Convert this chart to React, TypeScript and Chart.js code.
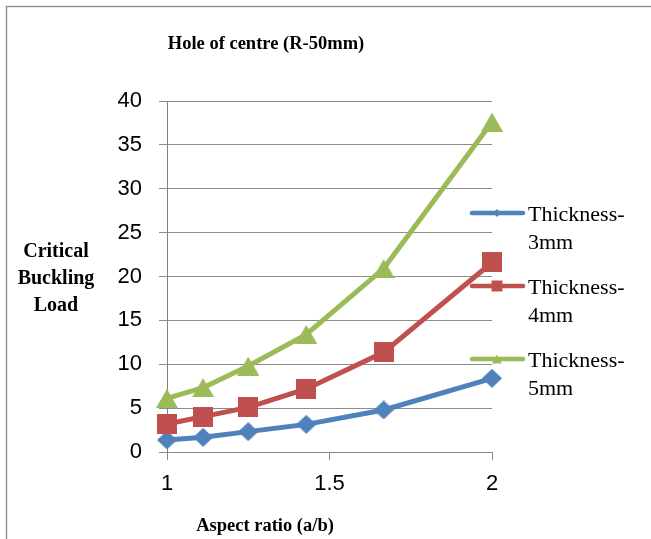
import React, { useEffect, useRef } from "react";
import { Chart, registerables } from "chart.js";

Chart.register(...registerables);

// Aspect ratios (a/b) tested
const aspectRatios = [1, 1.111, 1.25, 1.4286, 1.6667, 2];

// Critical buckling load for each plate thickness
const load3mm = [1.37, 1.67, 2.32, 3.15, 4.79, 8.4];
const load4mm = [3.19, 4.03, 5.09, 7.18, 11.36, 21.6];
const load5mm = [6.1, 7.33, 9.8, 13.4, 20.9, 37.6];

const seriesNames = [
  ["Thickness-", "3mm"],
  ["Thickness-", "4mm"],
  ["Thickness-", "5mm"],
];

const xTicks = [1, 1.5, 2];
const yTicks = [0, 5, 10, 15, 20, 25, 30, 35, 40];

const chartTitle = "Hole of centre (R-50mm)";
const xTitle = "Aspect ratio (a/b)";
const yTitleLines = ["Critical", "Buckling", "Load"];

const BLUE = "#4F81BD";
const RED = "#C0504D";
const GREEN = "#9BBB59";
const SERIF = '"Liberation Serif", "Times New Roman", serif';
const SANS = '"Liberation Sans", Arial, sans-serif';

type Shape = "diamond" | "square" | "triangle";

function drawShape(ctx: CanvasRenderingContext2D, shape: Shape, cx: number, cy: number, w: number, h: number) {
  ctx.beginPath();
  if (shape === "diamond") {
    ctx.moveTo(cx, cy - h / 2);
    ctx.lineTo(cx + w / 2, cy);
    ctx.lineTo(cx, cy + h / 2);
    ctx.lineTo(cx - w / 2, cy);
  } else if (shape === "square") {
    ctx.rect(cx - w / 2, cy - h / 2, w, h);
  } else {
    ctx.moveTo(cx, cy - h / 2);
    ctx.lineTo(cx + w / 2, cy + h / 2);
    ctx.lineTo(cx - w / 2, cy + h / 2);
  }
  ctx.closePath();
  ctx.fill();
}

function makeMarker(shape: Shape, w: number, h: number, color: string): HTMLCanvasElement {
  const c = document.createElement("canvas");
  c.width = w;
  c.height = h;
  const ctx = c.getContext("2d")!;
  ctx.fillStyle = color;
  drawShape(ctx, shape, w / 2, h / 2, w, h);
  return c;
}

const markerShapes: Shape[] = ["diamond", "square", "triangle"];
const legendMarkerSize: [number, number][] = [
  [8, 8],
  [11, 11],
  [10, 9],
];

// Frame, titles and the right-hand legend
const decorations = {
  id: "decorations",
  beforeDraw(chart: Chart) {
    const ctx = chart.ctx;
    ctx.save();
    ctx.fillStyle = "#ffffff";
    ctx.fillRect(0, 0, chart.width, chart.height);
    ctx.strokeStyle = "#8a8a8a";
    ctx.lineWidth = 1.3;
    ctx.strokeRect(6.5, 6.5, chart.width + 20, chart.height + 20);
    ctx.restore();
  },
  afterDraw(chart: Chart) {
    const ctx = chart.ctx;
    ctx.save();
    ctx.fillStyle = "#000000";
    ctx.textAlign = "center";
    ctx.textBaseline = "alphabetic";

    ctx.font = `bold 18.5px ${SERIF}`;
    ctx.fillText(chartTitle, 266, 49);
    ctx.fillText(xTitle, 265, 531);

    ctx.font = `bold 20px ${SERIF}`;
    yTitleLines.forEach((t, i) => ctx.fillText(t, 56, 257 + i * 27));

    // legend
    ctx.textAlign = "left";
    ctx.font = `22px ${SERIF}`;
    chart.data.datasets.forEach((ds: any, i: number) => {
      const lineY = 213 + i * 73;
      const color = ds.borderColor as string;
      ctx.strokeStyle = color;
      ctx.lineWidth = 4.5;
      ctx.lineCap = "round";
      ctx.beginPath();
      ctx.moveTo(472, lineY);
      ctx.lineTo(523, lineY);
      ctx.stroke();
      ctx.fillStyle = color;
      const [mw, mh] = legendMarkerSize[i];
      drawShape(ctx, markerShapes[i], 497, lineY, mw, mh);
      ctx.fillStyle = "#000000";
      seriesNames[i].forEach((line, j) => ctx.fillText(line, 528, lineY + 8 + j * 27.5));
    });
    ctx.restore();
  },
};

export default function App() {
  const canvasRef = useRef<HTMLCanvasElement>(null);

  useEffect(() => {
    const canvas = canvasRef.current;
    if (!canvas) return;

    const markers = [
      makeMarker("diamond", 20, 19, BLUE),
      makeMarker("square", 20, 20, RED),
      makeMarker("triangle", 22, 19, GREEN),
    ];
    const colors = [BLUE, RED, GREEN];
    const series = [load3mm, load4mm, load5mm];

    const chart = new Chart(canvas, {
      type: "line",
      data: {
        datasets: series.map((vals, i) => ({
          label: seriesNames[i].join(""),
          data: aspectRatios.map((x, k) => ({ x, y: vals[k] })),
          borderColor: colors[i],
          backgroundColor: colors[i],
          borderWidth: 5,
          tension: 0,
          pointStyle: markers[i],
          pointRadius: 10,
          clip: false,
          order: 2 - i,
        })),
      },
      options: {
        responsive: false,
        animation: false,
        layout: { padding: { left: 0, right: 159, top: 101, bottom: 0 } },
        plugins: {
          legend: { display: false },
          title: { display: false },
          tooltip: { enabled: false },
        },
        scales: {
          x: {
            type: "linear",
            min: 1,
            max: 2,
            afterFit: (scale: any) => {
              scale.height = 87;
            },
            afterBuildTicks: (scale: any) => {
              scale.ticks = xTicks.map((v) => ({ value: v }));
            },
            ticks: {
              color: "#000000",
              font: { family: SANS, size: 22 },
              padding: 11,
              callback: (v: any) => String(v),
            },
            grid: {
              drawOnChartArea: false,
              drawTicks: true,
              tickLength: 8,
              color: "#868686",
            },
            border: { display: true, color: "#868686", width: 1 },
          },
          y: {
            type: "linear",
            min: 0,
            max: 40,
            afterFit: (scale: any) => {
              scale.width = 167;
            },
            afterBuildTicks: (scale: any) => {
              scale.ticks = yTicks.map((v) => ({ value: v }));
            },
            ticks: {
              color: "#000000",
              font: { family: SANS, size: 22 },
              padding: 17,
              callback: (v: any) => String(v),
            },
            grid: {
              color: "#8c8c8c",
              lineWidth: 1,
              drawTicks: true,
              tickLength: 8,
            },
            border: { display: true, color: "#808080", width: 1 },
          },
        },
      },
      plugins: [decorations],
    });

    return () => chart.destroy();
  }, []);

  return (
    <div style={{ position: "fixed", left: 0, top: 0, width: 651, height: 539, background: "#fff" }}>
      <canvas ref={canvasRef} width={651} height={539} style={{ display: "block" }} />
    </div>
  );
}
